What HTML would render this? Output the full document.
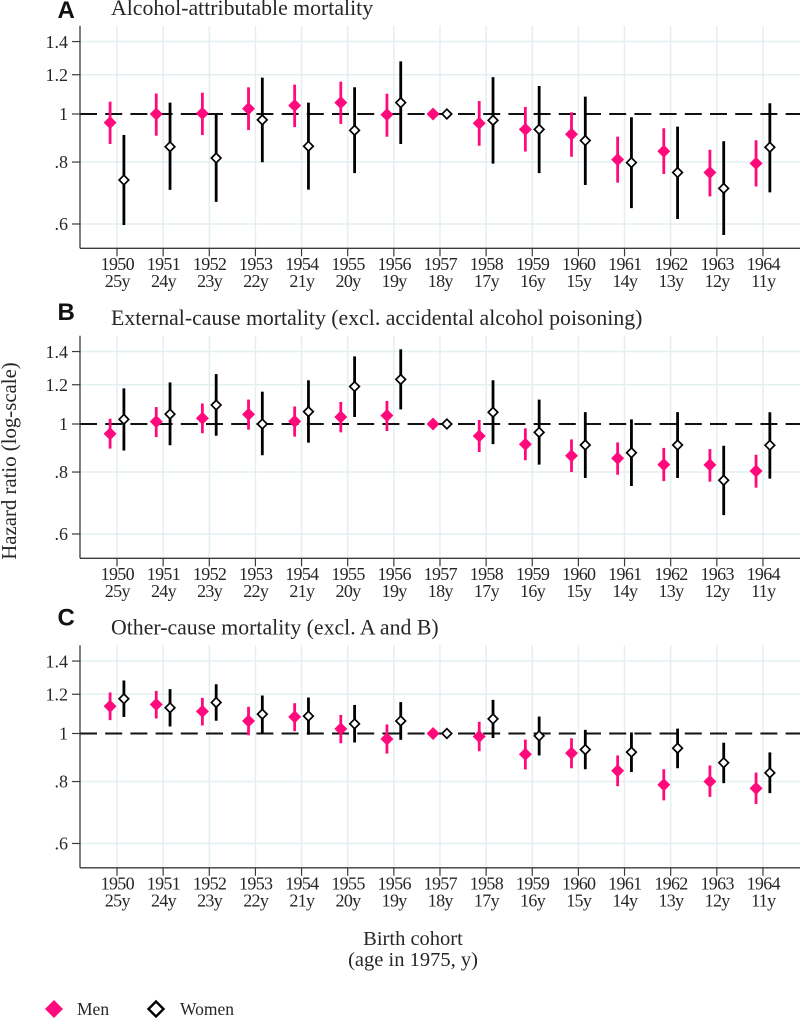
<!DOCTYPE html>
<html lang="en">
<head>
<meta charset="utf-8">
<title>Hazard ratios by birth cohort</title>
<style>
html,body{margin:0;padding:0;background:#fff;width:800px;height:1018px;overflow:hidden}
svg{display:block}
text{font-family:"Liberation Serif",serif;fill:#262626}
.letter{font-family:"Liberation Sans",sans-serif;font-weight:bold;font-size:24px;fill:#111}
</style>
</head>
<body>
<svg id="chart" width="800" height="1018" viewBox="0 0 800 1018" xmlns="http://www.w3.org/2000/svg">
  <text transform="translate(16,461) rotate(-90)" text-anchor="middle" font-size="20.8">Hazard ratio (log-scale)</text>
  <text x="413" y="945" text-anchor="middle" font-size="20.5">Birth cohort</text>
  <text x="413" y="966" text-anchor="middle" font-size="20.5">(age in 1975, y)</text>
  <polygon points="54,1000 63,1009 54,1018 45,1009" fill="#ff0a7c"/>
  <text x="77" y="1015" font-size="17.5">Men</text>
  <polygon points="156,1001.5 163.5,1009 156,1016.5 148.500,1009" fill="#fff" stroke="#000" stroke-width="2.4"/>
  <text x="180" y="1015" font-size="17.5">Women</text>
</svg>
<script>
const years = [1950,1951,1952,1953,1954,1955,1956,1957,1958,1959,1960,1961,1962,1963,1964];
const ages = ["25y","24y","23y","22y","21y","20y","19y","18y","17y","16y","15y","14y","13y","12y","11y"];
const yTickValues = [1.4,1.2,1,0.8,0.6];
const yTickLabels = ["1.4","1.2","1",".8",".6"];

const alcoholMen = [0.961,1.000,1.003,1.025,1.040,1.054,0.997,1,0.958,0.931,0.910,0.809,0.841,0.762,0.795];
const alcoholMenHigh = [1.059,1.100,1.104,1.132,1.146,1.162,1.099,1,1.062,1.033,1.008,0.900,0.936,0.847,0.885];
const alcoholMenLow = [0.870,0.904,0.907,0.928,0.941,0.955,0.900,1,0.863,0.840,0.820,0.727,0.757,0.682,0.714];
const alcoholWomen = [0.736,0.859,0.815,0.973,0.861,0.927,1.054,1,0.971,0.931,0.884,0.798,0.762,0.708,0.857];
const alcoholWomenHigh = [0.907,1.054,1.000,1.184,1.054,1.132,1.277,1,1.187,1.139,1.084,0.985,0.943,0.881,1.051];
const alcoholWomenLow = [0.597,0.703,0.665,0.799,0.704,0.760,0.870,1,0.794,0.760,0.719,0.646,0.614,0.570,0.695];

const externalMen = [0.956,1.011,1.027,1.046,1.012,1.033,1.040,1,0.946,0.910,0.863,0.853,0.828,0.827,0.804];
const externalMenHigh = [1.025,1.082,1.100,1.120,1.085,1.108,1.113,1,1.019,0.980,0.931,0.918,0.895,0.890,0.867];
const externalMenLow = [0.892,0.941,0.958,0.974,0.943,0.962,0.968,1,0.878,0.845,0.800,0.790,0.767,0.765,0.744];
const externalWomen = [1.022,1.047,1.092,1.000,1.059,1.190,1.230,1,1.056,0.962,0.907,0.875,0.907,0.770,0.906];
const externalWomenHigh = [1.180,1.213,1.261,1.162,1.225,1.369,1.415,1,1.225,1.120,1.057,1.022,1.057,0.904,1.056];
const externalWomenLow = [0.884,0.906,0.947,0.865,0.917,1.033,1.070,1,0.911,0.828,0.778,0.750,0.778,0.655,0.776];

const otherMen = [1.135,1.144,1.108,1.060,1.080,1.022,0.975,1,0.986,0.908,0.913,0.841,0.788,0.800,0.775];
const otherMenHigh = [1.210,1.219,1.180,1.132,1.151,1.090,1.043,1,1.056,0.972,0.978,0.903,0.847,0.862,0.834];
const otherMenLow = [1.064,1.072,1.038,0.992,1.011,0.956,0.911,1,0.921,0.846,0.851,0.783,0.733,0.745,0.721];
const otherWomen = [1.175,1.127,1.155,1.094,1.084,1.046,1.060,1,1.070,0.989,0.928,0.917,0.934,0.873,0.833];
const otherWomenHigh = [1.279,1.229,1.257,1.193,1.182,1.142,1.157,1,1.169,1.082,1.017,1.005,1.023,0.958,0.916];
const otherWomenLow = [1.080,1.033,1.061,1.000,0.994,0.959,0.971,1,0.979,0.903,0.847,0.836,0.851,0.794,0.758];

const svg = document.getElementById('chart');
const NS = 'http://www.w3.org/2000/svg';
const AXIS_LEFT = 80, PLOT_RIGHT = 800, PX_PER_LOG = 215.3;
const FIRST_X = 117, STEP_X = 46.14, DODGE = 6.9;
const MEN_COLOR = '#ff0a7c', GRID = '#e4eff2', AXIS = '#3a3a3a';

function xScale(i) { return FIRST_X + STEP_X * i; }

function make(tag, attrs, parent, text) {
  const el = document.createElementNS(NS, tag);
  for (const k in attrs) el.setAttribute(k, attrs[k]);
  if (text !== undefined) el.textContent = text;
  parent.appendChild(el);
  return el;
}

function drawPanel(key, letter, title, refY, men, menHigh, menLow, women, womenHigh, womenLow) {
  const yScale = v => refY - PX_PER_LOG * Math.log(v);
  const top = refY - 88.3, bottom = refY + 134.3;

  const g = make('g', {}, svg);
  
  

  const letterEl = make('text', {class: 'letter', x: 57.5, y: refY - 96 + (key === 'a' ? 0 : key === 'b' ? -8 : -12)}, g, letter);
  
  

  const titleEl = make('text', {x: 111, y: refY - 99, 'font-size': 21.8}, g, title);
  
  

  yTickValues.forEach((v, i) => {
    const y = yScale(v);
    if (v !== 1) {
      const grid = make('line', {x1: AXIS_LEFT, x2: PLOT_RIGHT, y1: y, y2: y, stroke: GRID, 'stroke-width': 1.5}, g);
      
      
    }
    const tick = make('line', {x1: AXIS_LEFT - 8, x2: AXIS_LEFT, y1: y, y2: y, stroke: AXIS, 'stroke-width': 1.2}, g);
    
    
    const label = make('text', {x: 68, y: y + 6.2, 'text-anchor': 'end', 'font-size': 18}, g, yTickLabels[i]);
    
    
  });

  years.forEach((yr, i) => {
    const x = xScale(i);
    const grid = make('line', {x1: x, x2: x, y1: top, y2: bottom, stroke: GRID, 'stroke-width': 1.5}, g);
    
    
    const tick = make('line', {x1: x, x2: x, y1: bottom, y2: bottom + 8, stroke: AXIS, 'stroke-width': 1.2}, g);
    
    
    const yearLabel = make('text', {x: x + 0.3, y: bottom + 21.7, 'text-anchor': 'middle', 'font-size': 18, 'letter-spacing': '-0.67'}, g, String(yr));
    
    
    const ageLabel = make('text', {x: x + 0.3, y: bottom + 38.7, 'text-anchor': 'middle', 'font-size': 18, 'letter-spacing': '-0.67'}, g, ages[i]);
    
    
  });

  const ref = make('line', {x1: AXIS_LEFT, x2: PLOT_RIGHT, y1: refY, y2: refY, stroke: '#111', 'stroke-width': 1.9, 'stroke-dasharray': '17 8.2'}, g);
  
  

  const yAxis = make('line', {x1: AXIS_LEFT, x2: AXIS_LEFT, y1: top, y2: bottom, stroke: AXIS, 'stroke-width': 1.3}, g);
  
  
  const xAxis = make('line', {x1: AXIS_LEFT, x2: PLOT_RIGHT, y1: bottom, y2: bottom, stroke: AXIS, 'stroke-width': 1.3}, g);
  
  

  years.forEach((yr, i) => {
    const xm = xScale(i) - DODGE, xw = xScale(i) + DODGE;
    if (menHigh[i] !== menLow[i]) {
      const ci = make('line', {x1: xm, x2: xm, y1: yScale(menHigh[i]), y2: yScale(menLow[i]), stroke: MEN_COLOR, 'stroke-width': 2.8}, g);
      
      
    }
    const ym = yScale(men[i]);
    const mm = make('polygon', {points: [xm, ym - 6.5, xm + 6.5, ym, xm, ym + 6.5, xm - 6.5, ym].join(' '), fill: MEN_COLOR}, g);
    
    

    if (womenHigh[i] !== womenLow[i]) {
      const ci = make('line', {x1: xw, x2: xw, y1: yScale(womenHigh[i]), y2: yScale(womenLow[i]), stroke: '#000', 'stroke-width': 2.8}, g);
      
      
    }
    const yw = yScale(women[i]);
    const mw = make('polygon', {points: [xw, yw - 4.8, xw + 4.8, yw, xw, yw + 4.8, xw - 4.8, yw].join(' '), fill: '#fff', stroke: '#000', 'stroke-width': 1.7}, g);
    
    
  });
}

drawPanel('a', 'A', 'Alcohol-attributable mortality', 114, alcoholMen, alcoholMenHigh, alcoholMenLow, alcoholWomen, alcoholWomenHigh, alcoholWomenLow);
drawPanel('b', 'B', 'External-cause mortality (excl. accidental alcohol poisoning)', 424, externalMen, externalMenHigh, externalMenLow, externalWomen, externalWomenHigh, externalWomenLow);
drawPanel('c', 'C', 'Other-cause mortality (excl. A and B)', 733.5, otherMen, otherMenHigh, otherMenLow, otherWomen, otherWomenHigh, otherWomenLow);
</script>
</body>
</html>
